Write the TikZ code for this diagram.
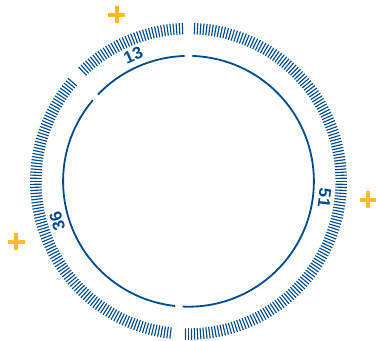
\documentclass[tikz,border=0pt]{standalone}
\usepackage{fontspec}
\setmainfont{Liberation Sans}
\definecolor{dialblue}{HTML}{004B8D}
\definecolor{markyellow}{HTML}{FBBA2E}
\begin{document}
\begin{tikzpicture}[x=1pt,y=1pt,
  tickmark/.style={draw=dialblue,line width=1.15pt},
  ringline/.style={draw=dialblue,line width=1.8pt},
  numlabel/.style={text=dialblue,font=\fontsize{17}{17}\selectfont\bfseries,inner sep=0pt},
  plusmark/.style={draw=markyellow,line width=4pt}]
\useasboundingbox (0,0) rectangle (376,341);
\coordinate (c) at (188.5,159.7);
\begin{scope}[shift={(c)}]
  \foreach \i in {0,...,319}{
    \pgfmathsetmacro\a{\i*1.125}
    \pgfmathtruncatemacro\skp{(abs(\a-90)<2.2)||(abs(\a-136.5)<2.2)||(abs(\a-266.2)<2.2)}
    \ifnum\skp=0 \draw[tickmark] (\a:147) -- (\a:158.5);\fi
  }
  \draw[ringline] (91.75:125.4) arc[start angle=91.75,end angle=136.25,radius=125.4];
  \draw[ringline] (139.75:125.4) arc[start angle=139.75,end angle=263.85,radius=125.4];
  \draw[ringline] (267.35:125.4) arc[start angle=267.35,end angle=448.25,radius=125.4];
  \node[numlabel,rotate=23.7] (n13) at (113.7:137.5) {13};
  \node[numlabel,rotate=-97] (n51) at (-7:137) {51};
  \node[numlabel,rotate=107] (n36) at (197:137.3) {36};
\end{scope}
\coordinate (p1) at (116.7,326);
\coordinate (p2) at (368.3,141);
\coordinate (p3) at (16,99.3);
\foreach \p in {p1,p2,p3}{
  \draw[plusmark] (\p) ++(-8.5,0) -- ++(17,0);
  \draw[plusmark] (\p) ++(0,-8.5) -- ++(0,17);
}
\end{tikzpicture}
\end{document}
